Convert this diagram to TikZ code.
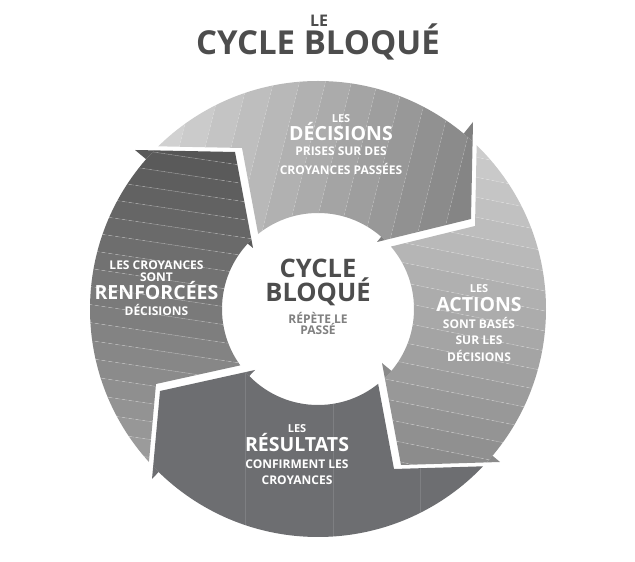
\documentclass[tikz,border=0pt]{standalone}
\usepackage{fontspec}
\setmainfont{Open Sans}
\usetikzlibrary{calc}
\definecolor{titlecol}{HTML}{4D4D4D}
\definecolor{subcol}{HTML}{808080}
\definecolor{resultcol}{HTML}{6D6E71}

% region of one arrow: from the notch behind head #1 to head #2
\newcommand{\segclip}[2]{%
  \clip (#1o2) -- (#1t2) -- (#1i2) -- (C) -- (#2i) -- (#2t) -- (#2o)
    -- ($(C)!3!(#2o)$) -- ($(C)!3!(#1o2)$) -- cycle;}

\begin{document}
\begin{tikzpicture}[x=1pt, y=1pt,
  txt/.style={text=white, inner sep=0pt, anchor=base, font=\bfseries\fontsize{12}{12}\selectfont},
  les/.style={txt, font=\bfseries\fontsize{11}{11}\selectfont},
  keyword/.style={txt, font=\bfseries\fontsize{19.5}{20}\selectfont},
  sep/.style={white, opacity=.25, line width=.6pt, dash pattern=on 5pt off 2pt}
]
\useasboundingbox (0,0) rectangle (635,562);

\coordinate (C) at (318,253);
% arrow heads: outer barb, tip, inner barb
\coordinate (Do) at (473,440); \coordinate (Dt) at (471,343); \coordinate (Di) at (377,320);
\coordinate (Ao) at (500,100); \coordinate (At) at (401,97);  \coordinate (Ai) at (382,199);
\coordinate (Ro) at (152,83);  \coordinate (Rt) at (160,171); \coordinate (Ri) at (255,192);
\coordinate (Fo) at (135,412); \coordinate (Ft) at (235,410); \coordinate (Fi) at (253,314);
\foreach \h/\dx/\dy in {D/4/-7, A/-7/-4, R/-4/7, F/7/4}
  \foreach \p in {o,t,i}
    \coordinate (\h\p2) at ($(\h\p)+(\dx,\dy)$);

\begin{scope}[even odd rule]
  \clip (C) circle (228) (C) circle (96);
  \begin{scope}
    \segclip{F}{D}
    \foreach \i [evaluate=\i as \c using 13+2.5*\i] in {0,...,17}
      \fill[black!\c] (60+26*\i,250) -- ++(26,0) -- ++(78,312) -- ++(-26,0) -- cycle;
    \foreach \i in {1,...,17}
      \draw[sep, opacity=.15] (60+26*\i,250) -- ++(78,312);
  \end{scope}
  \begin{scope}
    \segclip{D}{A}
    \foreach \i [evaluate=\i as \c using 18+1.6*\i] in {0,...,21}
      \fill[black!\c] (300,480-20*\i) -- ++(260,-52) -- ++(0,-20) -- ++(-260,52) -- cycle;
    \foreach \i in {1,...,21}
      \draw[sep] (300,480-20*\i) -- ++(260,-52);
  \end{scope}
  \begin{scope}
    \segclip{A}{R}
    \fill[resultcol] (60,0) rectangle (560,320);
    \foreach \x in {245,333,420}
      \draw[white, opacity=.12, line width=.6pt] (\x,0) -- (\x,320);
  \end{scope}
  \begin{scope}
    \segclip{R}{F}
    \foreach \i [evaluate=\i as \c using 68-1.6*\i] in {0,...,22}
      \fill[black!\c] (60,460-18*\i) -- ++(230,-34.5) -- ++(0,-18) -- ++(-230,34.5) -- cycle;
    \foreach \i in {1,...,22}
      \draw[sep] (60,460-18*\i) -- ++(230,-34.5);
  \end{scope}
\end{scope}

% barbs sticking out of the ring
\begin{scope}[even odd rule]
  \clip (0,0) rectangle (635,562) (C) circle (228) (C) circle (96);
  \fill[black!50] (Do) -- (Dt) -- (Di) -- cycle;
  \fill[black!46] (Ao) -- (At) -- (Ai) -- cycle;
  \fill[resultcol] (Ro) -- (Rt) -- (Ri) -- cycle;
  \fill[black!65] (Fo) -- (Ft) -- (Fi) -- cycle;
\end{scope}

\node[txt, text=titlecol, font=\bfseries\fontsize{16}{16}\selectfont] (title1) at (319,535) {LE};
\node[txt, text=titlecol, text height=24pt, font=\bfseries\fontsize{33}{33}\selectfont] (title2) at (318,507) {CYCLE BLOQUÉ};

\node[les] (decLes) at (341,439) {LES};
\node[keyword] (decKey) at (341,421) {DÉCISIONS};
\node[txt] (dec1) at (341,406) {PRISES SUR DES};
\node[txt] (dec2) at (341,387) {CROYANCES PASSÉES};

\node[les] (actLes) at (479,269.3) {LES};
\node[keyword] (actKey) at (479,250.3) {ACTIONS};
\node[txt] (act1) at (479,233.7) {SONT BASÉS};
\node[txt] (act2) at (479,217) {SUR LES};
\node[txt] (act3) at (479,200.3) {DÉCISIONS};

\node[txt] (ren1) at (156.5,292) {LES CROYANCES};
\node[txt] (ren2) at (156.5,280) {SONT};
\node[keyword] (renKey) at (156.5,262) {RENFORCÉES};
\node[txt] (ren3) at (156.5,246) {DÉCISIONS};

\node[les] (resLes) at (297,129.3) {LES};
\node[keyword] (resKey) at (297,110.3) {RÉSULTATS};
\node[txt] (res1) at (297,93.7) {CONFIRMENT LES};
\node[txt] (res2) at (297,77) {CROYANCES};

\node[txt, text=titlecol, font=\bfseries\fontsize{25.5}{25.5}\selectfont] (mid1) at (318,284.5) {CYCLE};
\node[txt, text=titlecol, font=\bfseries\fontsize{25.5}{25.5}\selectfont] (mid2) at (318,260.3) {BLOQUÉ};
\node[txt, text=subcol] (mid3) at (318,238) {RÉPÈTE LE};
\node[txt, text=subcol] (mid4) at (318,227) {PASSÉ};
\end{tikzpicture}
\end{document}
